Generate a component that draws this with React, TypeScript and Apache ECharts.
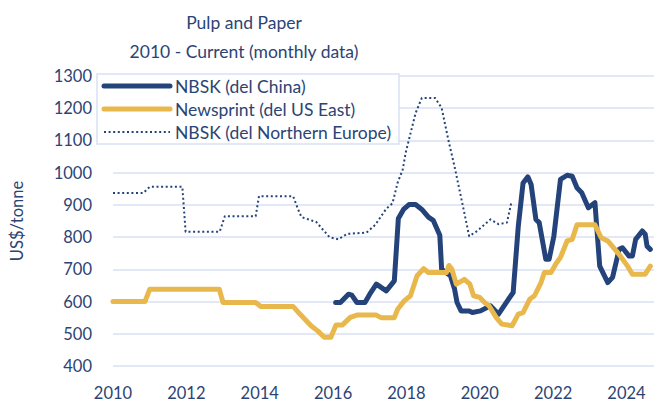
import React, { useEffect, useRef } from "react";
import * as echarts from "echarts";

const titleLines = ["Pulp and Paper", "2010 - Current (monthly data)"];
const yAxisName = "US$/tonne";
const seriesNames = ["NBSK (del China)", "Newsprint (del US East)", "NBSK (del Northern Europe)"];

// [decimal year, US$/tonne]
const nbskChina: [number, number][] = [
  [2016.07, 597], [2016.2, 597], [2016.42, 623], [2016.51, 620], [2016.65, 597], [2016.87, 597],
  [2017.0, 623], [2017.18, 654], [2017.45, 633], [2017.67, 664], [2017.78, 858], [2017.92, 886],
  [2018.07, 901], [2018.25, 901], [2018.42, 886], [2018.6, 862], [2018.73, 852], [2018.91, 806],
  [2018.96, 700], [2019.2, 680], [2019.31, 640], [2019.38, 597], [2019.49, 571], [2019.71, 571],
  [2019.8, 566], [2020.02, 571], [2020.29, 587], [2020.51, 561], [2020.78, 607], [2020.91, 628],
  [2021.05, 834], [2021.18, 968], [2021.31, 987], [2021.4, 963], [2021.53, 855], [2021.62, 845],
  [2021.8, 731], [2021.89, 731], [2022.02, 803], [2022.2, 979], [2022.38, 992], [2022.52, 989],
  [2022.65, 953], [2022.78, 938], [2022.96, 891], [2023.14, 907], [2023.18, 845], [2023.27, 710],
  [2023.49, 659], [2023.62, 675], [2023.8, 762], [2023.89, 767], [2024.07, 741], [2024.16, 741],
  [2024.25, 793], [2024.43, 819], [2024.51, 809], [2024.56, 772], [2024.65, 762],
];

const newsprint: [number, number][] = [
  [2010.0, 600], [2010.87, 600], [2011.0, 638], [2012.9, 638], [2013.0, 597], [2013.89, 597],
  [2014.03, 585], [2014.91, 585], [2015.09, 562], [2015.4, 525], [2015.58, 509], [2015.76, 489],
  [2015.94, 489], [2016.08, 527], [2016.25, 527], [2016.47, 551], [2016.65, 558], [2017.18, 558],
  [2017.31, 550], [2017.67, 550], [2017.76, 576], [2017.94, 602], [2018.11, 618], [2018.29, 680],
  [2018.47, 702], [2018.6, 690], [2019.09, 690], [2019.16, 712], [2019.24, 700], [2019.36, 654],
  [2019.58, 669], [2019.73, 654], [2019.83, 618], [2020.0, 613], [2020.13, 597], [2020.25, 587],
  [2020.45, 550], [2020.6, 530], [2020.88, 525], [2021.05, 561], [2021.18, 566], [2021.36, 607],
  [2021.49, 618], [2021.67, 659], [2021.76, 690], [2021.94, 690], [2022.07, 716], [2022.2, 737],
  [2022.38, 788], [2022.52, 793], [2022.65, 838], [2023.14, 838], [2023.31, 798], [2023.49, 788],
  [2023.76, 752], [2024.03, 710], [2024.16, 685], [2024.51, 685], [2024.65, 710],
];

const nbskEurope: [number, number][] = [
  [2010.0, 937], [2010.83, 937], [2011.0, 956], [2011.89, 956], [2011.98, 817], [2012.91, 817],
  [2013.05, 865], [2013.89, 865], [2013.98, 927], [2014.91, 927], [2015.05, 885], [2015.14, 862],
  [2015.54, 847], [2015.9, 800], [2016.14, 793], [2016.38, 810], [2016.91, 814], [2017.15, 838],
  [2017.45, 888], [2017.62, 905], [2017.76, 969], [2017.9, 1010], [2017.98, 1062], [2018.07, 1103],
  [2018.25, 1185], [2018.42, 1232], [2018.78, 1232], [2018.96, 1201], [2019.14, 1103], [2019.31, 1020],
  [2019.54, 896], [2019.71, 803], [2019.93, 819], [2020.29, 855], [2020.51, 840], [2020.74, 845],
  [2020.87, 912],
];

const NAVY = "#24437A";
const GOLD = "#E9B84C";
const TEXT = "#2B4474";
const GRID = "#D9E1F2";
const FONT = "Lato";

export default function App() {
  const ref = useRef<HTMLDivElement>(null);
  useEffect(() => {
    if (!ref.current) return;
    const chart = echarts.init(ref.current, undefined, { renderer: "svg" });
    chart.setOption({
      animation: false,
      backgroundColor: "#ffffff",
      textStyle: { fontFamily: FONT },
      grid: { left: 101, right: 1, top: 76, bottom: 34 },
      graphic: titleLines.map((t, i) => ({
        type: "text",
        x: 244,
        y: 22 + i * 29,
        style: {
          text: t,
          fontFamily: FONT,
          fontSize: 17.5,
          fill: TEXT,
          align: "center",
          verticalAlign: "middle",
        },
      })),
      legend: {
        orient: "vertical",
        left: 97,
        top: 74,
        itemWidth: 66,
        itemHeight: 10,
        itemGap: 4,
        padding: [2.5, 4, 2.5, 4.5],
        backgroundColor: "#ffffff",
        borderColor: GRID,
        borderWidth: 1.5,
        textStyle: { fontFamily: FONT, fontSize: 17.5, color: TEXT, lineHeight: 19, width: 220 },
        itemStyle: { opacity: 0 },
        lineStyle: { width: "inherit" },
        data: seriesNames,
      },
      xAxis: {
        type: "value",
        min: 2010,
        max: 2024.75,
        interval: 2,
        axisLine: { show: false },
        axisTick: { show: false },
        splitLine: { show: false },
        axisLabel: {
          showMaxLabel: false,
          margin: 18,
          color: TEXT,
          fontFamily: FONT,
          fontSize: 16.5,
          formatter: (v: number) => (Number.isInteger(v) && v % 2 === 0 ? String(v) : ""),
        },
      },
      yAxis: {
        type: "value",
        min: 400,
        max: 1300,
        interval: 100,
        name: yAxisName,
        nameLocation: "middle",
        nameGap: 88,
        nameTextStyle: { color: TEXT, fontFamily: FONT, fontSize: 16.5 },
        axisLine: { show: false },
        axisTick: { show: false },
        axisLabel: {
          color: TEXT,
          fontFamily: FONT,
          fontSize: 16.5,
          margin: 21,
          formatter: (v: number) => String(v),
        },
        splitLine: { lineStyle: { color: GRID, width: 1.5 } },
      },
      series: [
        {
          name: seriesNames[0],
          type: "line",
          data: nbskChina,
          symbol: "none",
          lineStyle: { color: NAVY, width: 5, cap: "round", join: "round" },
          itemStyle: { color: NAVY },
        },
        {
          name: seriesNames[1],
          type: "line",
          data: newsprint,
          symbol: "none",
          lineStyle: { color: GOLD, width: 5, cap: "round", join: "round" },
          itemStyle: { color: GOLD },
        },
        {
          name: seriesNames[2],
          type: "line",
          data: nbskEurope,
          symbol: "none",
          lineStyle: { color: NAVY, width: 2, type: [2, 2.6], cap: "butt", join: "round" },
          itemStyle: { color: NAVY },
        },
      ],
    });
    return () => chart.dispose();
  }, []);
  return (
    <div
      ref={ref}
      style={{ position: "fixed", left: 0, top: 0, width: 655, height: 401, background: "#fff" }}
    />
  );
}
